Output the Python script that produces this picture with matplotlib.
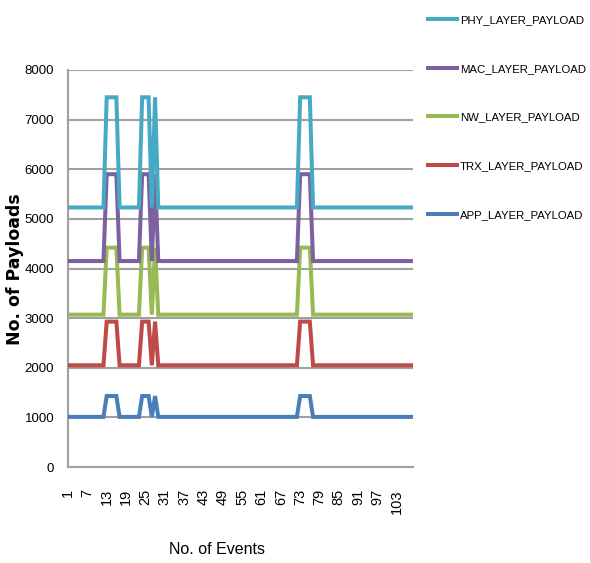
import numpy as np
import matplotlib
matplotlib.use("Agg")
import matplotlib.pyplot as plt

# Payload counts per protocol layer (stacked totals as plotted)
events = np.arange(1, 109)
layers = ["APP_LAYER_PAYLOAD", "TRX_LAYER_PAYLOAD", "NW_LAYER_PAYLOAD",
          "MAC_LAYER_PAYLOAD", "PHY_LAYER_PAYLOAD"]
base_payloads = [1010, 2050, 3070, 4150, 5230]
burst_payloads = [1430, 2930, 4420, 5900, 7450]
burst_events = [13, 14, 15, 16, 24, 25, 26, 28, 73, 74, 75, 76]

colors = ["#4A7EBB", "#BE4B48", "#98B954", "#7D60A0", "#46AAC5"]
font = "Liberation Sans"

fig = plt.figure(figsize=(5.9, 5.63), dpi=100)
ax = fig.add_axes([68 / 590, 1 - 467 / 563, 345 / 590, 397 / 563])

in_burst = np.isin(events, burst_events)
for name, base, peak, col in zip(layers, base_payloads, burst_payloads, colors):
    series = np.where(in_burst, peak, base)
    ax.plot(events, series, color=col, lw=2.9, label=name,
            solid_joinstyle="miter", zorder=3)

ax.set_xlim(1, 108)
ax.set_ylim(0, 8000)
ax.set_yticks(np.arange(0, 8001, 1000))
ax.set_xticks(np.arange(1, 108, 6))
ax.set_xticklabels([str(v) for v in np.arange(1, 108, 6)], rotation=90,
                   family=font, fontsize=10.5)
ax.set_yticklabels([str(v) for v in np.arange(0, 8001, 1000)],
                   family=font, fontsize=9.5)
ax.tick_params(axis="both", length=0)
ax.tick_params(axis="y", pad=10)
ax.tick_params(axis="x", pad=16)

ax.grid(axis="y", color="#A0A0A0", lw=1.5)
ax.set_axisbelow(True)
for side in ["top", "right"]:
    ax.spines[side].set_visible(False)
for side in ["left", "bottom"]:
    ax.spines[side].set_color("#A0A0A0")
    ax.spines[side].set_linewidth(1.5)

fig.text(217 / 590, 1 - 549 / 563, "No. of Events", family=font,
         fontsize=11.5, ha="center", va="center")
fig.text(15 / 590, 1 - 269 / 563, "No. of Payloads", family="DejaVu Sans",
         fontweight="bold", fontsize=12.5, rotation=90, ha="center", va="center")

handles, labels = ax.get_legend_handles_labels()
fig.legend(handles[::-1], labels[::-1], loc="upper left",
           bbox_to_anchor=(428 / 590, 1 - 15 / 563), frameon=False,
           borderpad=0, borderaxespad=0, handlelength=2.55, handletextpad=0.27,
           labelspacing=3.4, prop={"family": font, "size": 8.2})

fig.savefig("out.png", dpi=100)
